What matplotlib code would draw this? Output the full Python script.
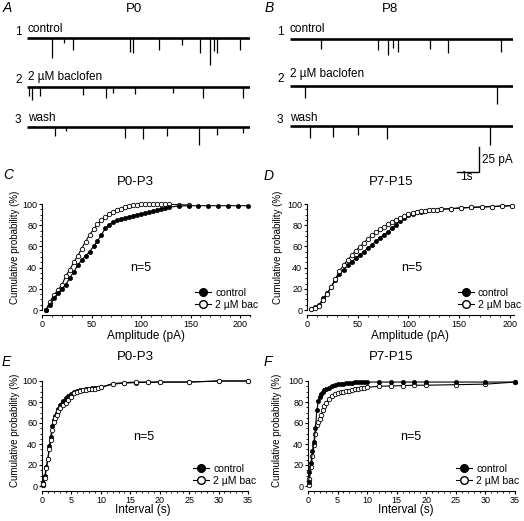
import matplotlib.pyplot as plt
from matplotlib.lines import Line2D
from matplotlib.ticker import MultipleLocator

plt.rcParams['font.family'] = ['Liberation Sans', 'DejaVu Sans']

W, H = 524, 521

# --- sample traces: events as (time s, amplitude pA), baselines in pA ---
row_labels = ["control", "2 \u00b5M baclofen", "wash"]
p0_events = [
    [(1.09, 20), (1.65, 5), (2.05, 12), (4.61, 14), (4.74, 15), (5.9, 12),
     (6.94, 7), (7.74, 15), (8.19, 27), (8.37, 13), (8.51, 15), (9.54, 12)],
    [(0.08, 9), (0.21, 13), (0.57, 9), (2.5, 8), (3.53, 11), (3.84, 6),
     (4.83, 7), (6.53, 6), (7.88, 11), (9.67, 11)],
    [(1.24, 9), (1.74, 4), (4.38, 11), (5.19, 12), (6.27, 9), (7.7, 18),
     (8.51, 8), (9.67, 6)],
]
p8_events = [
    [(1.38, 10), (3.93, 11), (4.38, 16), (4.6, 9), (4.83, 13), (6.26, 10),
     (7.07, 14), (9.45, 13)],
    [(0.66, 12), (9.27, 18)],
    [(0.88, 12), (1.91, 11), (3.04, 9), (4.34, 13), (8.96, 19)],
]
p0_base = [162, 113, 73]
p8_base = [161, 114, 74]
bar_time = 1      # s
bar_amp = 25      # pA

# --- amplitude distributions (pA, %) ---
amp_bins = [4, 8, 12, 16, 20, 24, 28, 32, 36, 40, 44, 48, 52, 56, 60, 64,
            68, 72, 76, 80, 84, 88, 92, 96, 100, 104, 108, 112, 116, 120, 124, 128]
c_tail = [138, 148, 158, 168, 178, 188, 198, 208]
c_ctrl = [0, 5, 11, 16, 20, 24, 30, 36, 42, 47, 51, 55, 60, 65, 71, 77,
          80.5, 83, 84.5, 86, 87, 88, 89, 90, 90.7, 91.5, 92.3, 93.2, 94.2, 95.3, 96.3, 97]
c_ctrl_tail = [98, 98.4, 98.4, 98.4, 98.4, 98.4, 98.4, 98.4]
c_bac = [0, 8, 14, 19, 23.5, 32, 38, 45, 51, 58, 64.5, 71, 76, 81, 84.5, 87.5,
         90.5, 92.5, 94.3, 95.6, 96.8, 97.8, 98.8, 99.5, 99.7, 99.7, 99.7, 99.7, 99.7, 99.7, 99.7, 99.7]
c_bac_tail = [99.3, 99.0]

d_tail = [132, 142, 152, 162, 172, 182, 192, 202]
d_ctrl = [1, 2.5, 5, 11, 16, 22, 28.5, 33.5, 38, 42, 45.5, 49, 52, 55, 58.5, 61.5,
          65, 68, 71, 74, 77, 80.5, 84, 87, 89.5, 91, 92, 92.8, 93.5, 94, 94.3, 94.6]
d_bac = [0.5, 1.5, 4, 9.5, 15, 22, 29.5, 36.5, 42.5, 47, 51.5, 56, 59.5, 63.5, 67, 70.5,
         73.5, 76, 78.5, 81, 83, 85, 87, 89, 90.3, 91.5, 92.6, 93.2, 93.7, 94.2, 94.5, 94.8]
d_tail_vals = [95, 95.6, 96.3, 96.8, 97.2, 97.6, 98, 98.5]

# --- interval distributions (s, %) ---
int_bins = [0.1, 0.25, 0.5, 0.75, 1.0, 1.25, 1.5, 1.75, 2.0, 2.25, 2.5, 2.75, 3.0,
            3.5, 4.0, 4.5, 5.0, 5.5, 6.0, 6.5, 7.0, 7.5, 8.0, 8.5, 9.0, 9.5, 10.0,
            12, 14, 16, 18, 20, 25, 30, 35]
e_ctrl = [1, 3, 10, 18, 26, 38, 47, 57, 63, 67, 70, 73, 77,
          81, 83.5, 86, 88, 89.5, 90.5, 91, 91.5, 92, 92.5, 93, 93.3, 93.7, 94,
          97, 98, 98.5, 98.7, 99, 99, 100, 100]
e_bac = [0.5, 2, 8, 17, 26, 35, 44, 53, 61, 65, 68, 71, 74,
         77, 79, 82, 85, 88.5, 90, 90.7, 91.2, 91.6, 92, 92.3, 92.6, 93, 94,
         97.5, 98.5, 99, 99, 99, 99, 100, 100]
f_ctrl = [4, 13, 22, 33, 42, 55, 72, 81, 85, 87.5, 89.5, 91, 92,
          93.5, 95, 96, 96.7, 97.2, 97.6, 98, 98.2, 98.4, 98.6, 98.7, 98.8, 98.9, 99,
          99, 99, 99, 99, 99, 99, 99, 99]
f_bac = [1, 7, 18, 29, 39, 50, 58, 61, 64, 68, 72, 76, 79,
         83, 86, 87.5, 89, 89.5, 90, 90.4, 90.8, 91.3, 92, 92.5, 93, 93.5, 94,
         95, 95.3, 95.6, 96, 96, 96.5, 97, 99]

fig = plt.figure(figsize=(W / 100, H / 100), dpi=100)


def fx(x):
    return x / W


def fy(y):
    return 1 - y / H


def draw_traces(x0, events, bases):
    ax = fig.add_axes([fx(x0), fy(200), 223 / W, 180 / H])
    ax.set_xlim(0, 10)
    ax.set_ylim(0, 180)
    ax.axis('off')
    for ev, base in zip(events, bases):
        ax.plot([0, 10], [base, base], color='black', lw=1.9, solid_capstyle='butt')
        t = [e[0] for e in ev]
        amp = [e[1] for e in ev]
        ax.vlines(t, [base - a for a in amp], base, color='black', lw=0.9)
    return ax


axA = draw_traces(27.3, p0_events, p0_base)
axB = draw_traces(290.3, p8_events, p8_base)

# scale bar
bx, by = 8.46, 28
axB.plot([bx - bar_time, bx, bx], [by, by, by + bar_amp], color='black', lw=1.0)
axB.text(bx + 0.12, by + bar_amp / 2, "25 pA", fontsize=8.5, va='center', ha='left')
axB.text(bx - bar_time / 2 - 0.05, by - 5, "1s", fontsize=8.5, va='center', ha='center')

# trace labels
for x_num, x_txt, rows in [(15, 28, [(35, 32), (83, 80), (123, 120.7)]),
                           (277, 290, [(35, 32.3), (81.7, 77.3), (123, 120.7)])]:
    for i, (yn, yt) in enumerate(rows):
        fig.text(fx(x_num), fy(yn), str(i + 1), fontsize=8.5, va='baseline')
        fig.text(fx(x_txt), fy(yt), row_labels[i], fontsize=8.5, va='baseline')

fig.text(fx(134), fy(9), "P0", fontsize=9.5, ha='center', va='center')
fig.text(fx(390), fy(9), "P8", fontsize=9.5, ha='center', va='center')

for letter, (x, y) in {"A": (3, 8), "B": (265, 8), "C": (3, 175), "D": (264, 176),
                       "E": (2, 362), "F": (264, 362)}.items():
    fig.text(fx(x), fy(y), letter, fontsize=10, style='italic', ha='left', va='center')


def cum_axes(rect, xmax, major, minor):
    ax = fig.add_axes(rect)
    ax.set_xlim(0, xmax)
    ax.set_ylim(0, 100)
    for s in ['top', 'right']:
        ax.spines[s].set_visible(False)
    for s in ['left', 'bottom']:
        ax.spines[s].set_linewidth(0.8)
    ax.spines['bottom'].set_position(('outward', 3.5))
    ax.xaxis.set_major_locator(MultipleLocator(major))
    ax.xaxis.set_minor_locator(MultipleLocator(minor))
    ax.yaxis.set_major_locator(MultipleLocator(20))
    ax.yaxis.set_minor_locator(MultipleLocator(5))
    ax.tick_params(which='major', length=2.5, width=0.8, labelsize=6.5, pad=1)
    ax.tick_params(which='minor', length=1.6, width=0.6)
    return ax


def draw_pair(ax, xc, yc, xb, yb, bac_top):
    zc, zb = (3, 4) if bac_top else (4, 3)
    ax.plot(xc, yc, '-o', color='black', mfc='black', ms=3, mew=0.5, lw=0.8,
            clip_on=False, zorder=zc)
    ax.plot(xb, yb, '-o', color='black', mfc='white', ms=3.2, mew=0.6, lw=0.8,
            clip_on=False, zorder=zb)


def add_legend(ax, xa):
    handles = [Line2D([], [], color='black', marker='o', mfc='black', ms=5.5, lw=0.8),
               Line2D([], [], color='black', marker='o', mfc='white', ms=5.5, lw=0.8)]
    ax.legend(handles, ['control', '2 \u00b5M bac'], loc='lower right',
              bbox_to_anchor=(xa, 0.0), frameon=False, fontsize=7.5,
              handlelength=1.5, handletextpad=0.4, labelspacing=0.2,
              borderpad=0, borderaxespad=0)


axC = cum_axes([fx(42), fy(310), 208 / W, 106 / H], 210, 50, 10)
draw_pair(axC, amp_bins + c_tail, c_ctrl + c_ctrl_tail,
          amp_bins + c_tail[:2], c_bac + c_bac_tail, bac_top=False)
axD = cum_axes([fx(307), fy(310), 207 / W, 106 / H], 204, 50, 10)
draw_pair(axD, amp_bins + d_tail, d_ctrl + d_tail_vals,
          amp_bins + d_tail, d_bac + d_tail_vals, bac_top=True)
axE = cum_axes([fx(42), fy(486), 206 / W, 105 / H], 35, 5, 1)
draw_pair(axE, int_bins, e_ctrl, int_bins, e_bac, bac_top=True)
axF = cum_axes([fx(308), fy(486), 207 / W, 105 / H], 35, 5, 1)
draw_pair(axF, int_bins, f_ctrl, int_bins, f_bac, bac_top=False)

add_legend(axC, 1.04)
add_legend(axD, 1.034)
add_legend(axE, 1.04)
add_legend(axF, 1.02)

axC.text(100, 40, "n=5", fontsize=9, ha='center', va='center')
axD.text(103, 40, "n=5", fontsize=9, ha='center', va='center')
axE.text(17.2, 47, "n=5", fontsize=9, ha='center', va='center')
axF.text(17.4, 47, "n=5", fontsize=9, ha='center', va='center')

for x, y, t in [(135, 182, "P0-P3"), (391, 182, "P7-P15"),
                (135, 357, "P0-P3"), (391, 357, "P7-P15")]:
    fig.text(fx(x), fy(y), t, fontsize=9.5, ha='center', va='center')

for x, y in [(15, 247), (278, 247), (15, 430), (277, 430)]:
    fig.text(fx(x), fy(y), "Cumulative probability (%)", fontsize=7,
             rotation=90, ha='center', va='center')

for x, y, t in [(146, 336, "Amplitude (pA)"), (410, 336, "Amplitude (pA)"),
                (143, 510, "Interval (s)"), (406, 510, "Interval (s)")]:
    fig.text(fx(x), fy(y), t, fontsize=8.5, ha='center', va='center')

fig.savefig("out.png", dpi=100)
